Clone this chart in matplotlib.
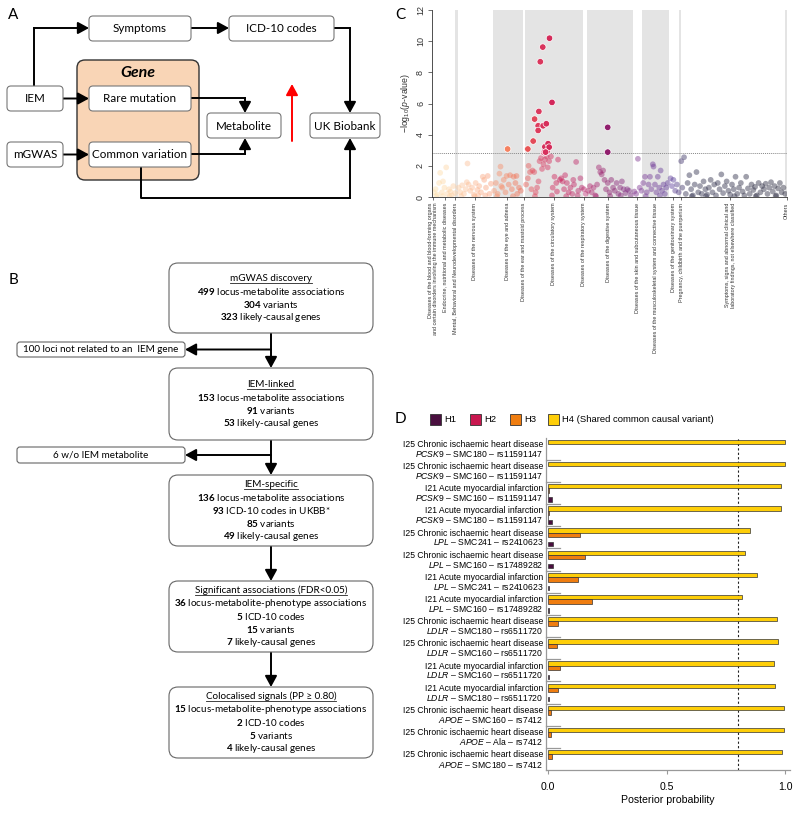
import numpy as np
import matplotlib
matplotlib.use("Agg")
import matplotlib.pyplot as plt
from matplotlib.patches import FancyBboxPatch, Rectangle
from matplotlib.colors import LinearSegmentedColormap

plt.rcParams['mathtext.fontset'] = 'custom'
plt.rcParams['mathtext.rm'] = 'Liberation Sans'
plt.rcParams['mathtext.it'] = 'Liberation Sans:italic'
plt.rcParams['mathtext.bf'] = 'Lato:bold'

SANS = ['Lato', 'DejaVu Sans']
ARIAL = ['Liberation Sans', 'DejaVu Sans']

# ---------------- Panel B data ----------------
flow_titles = ["mGWAS discovery", "IEM-linked", "IEM-specific",
               "Significant associations (FDR<0.05)", "Colocalised signals (PP \u2265 0.80)"]
flow_numbers = [["499", "304", "323"],
                ["153", "91", "53"],
                ["136", "93", "85", "49"],
                ["36", "5", "15", "7"],
                ["15", "2", "5", "4"]]
flow_texts = [["locus-metabolite associations", "variants", "likely-causal genes"],
              ["locus-metabolite associations", "variants", "likely-causal genes"],
              ["locus-metabolite associations", "ICD-10 codes in UKBB*", "variants", "likely-causal genes"],
              ["locus-metabolite-phenotype associations", "ICD-10 codes", "variants", "likely-causal genes"],
              ["locus-metabolite-phenotype associations", "ICD-10 codes", "variants", "likely-causal genes"]]
flow_excluded = ["100 loci not related to an  IEM gene", "6 w/o IEM metabolite"]

# ---------------- Panel C data ----------------
c_tick_labels = ["Diseases of the blood and blood-forming organs\nand certain disorders involving the immune mechanism",
                 "Endocrine, nutritional and metabolic diseases",
                 "Mental, Behavioral and Neurodevelopmental disorders",
                 "Diseases of the nervous system",
                 "Diseases of the eye and adnexa",
                 "Diseases of the ear and mastoid process",
                 "Diseases of the circulatory system",
                 "Diseases of the respiratory system",
                 "Diseases of the digestive system",
                 "Diseases of the skin and subcutaneous tissue",
                 "Diseases of the musculoskeletal system and connective tissue",
                 "Diseases of the genitourinary system",
                 "Pregnancy, childbirth and the puerperium",
                 "Symptoms, signs and abnormal clinical and\nlaboratory findings, not elsewhere classified",
                 "Others"]
c_tick_pos = [0.3, 3.6, 6.6, 12.1, 21.2, 25.9, 34.3, 42.8, 49.7, 57.8, 62.9, 68.0, 70.2, 84.0, 99.9]
c_bands = [(6.6, 7.2), (17.2, 25.6), (26.3, 42.5), (43.7, 56.6), (59.2, 66.9), (69.5, 70.1), (99.3, 99.9)]
c_threshold = 2.82

c_x = [0.5, 1.0, 1.5, 2.0, 2.3, 2.8, 3.1, 3.5, 4.0, 4.3, 4.8, 5.2, 5.6, 6.0, 6.5, 1.2, 3.0, 5.0,
       7.5, 8.0, 8.5, 9.0, 9.5, 10.0, 10.3, 10.8, 11.3, 11.8, 12.3, 12.8, 13.3, 13.8, 14.3, 14.7,
       15.2, 15.7, 16.2, 16.6, 8.2, 12.0, 15.0, 9.8, 13.0,
       17.5, 18.0, 18.5, 19.0, 19.3, 19.8, 20.2, 20.7, 21.0, 21.6, 22.0, 22.5, 23.0, 23.5, 24.0,
       24.5, 25.0, 18.3, 22.8, 19.5, 23.8,
       26.5, 27.0, 27.2, 27.6, 28.0, 28.3, 28.8, 29.2, 29.6, 30.0, 30.3, 30.7, 31.0, 31.4, 31.8,
       32.3, 32.6, 33.0, 33.5, 34.0, 34.5, 35.0, 35.5, 36.0, 36.4, 36.8, 37.2, 37.5, 38.0, 38.5,
       39.0, 39.5, 40.0, 40.6, 41.2, 41.8, 42.2, 29.0, 33.8, 37.8, 41.0, 35.2, 39.8,
       42.8, 43.3, 44.0, 44.5, 45.0, 45.5, 46.0, 46.5, 47.0, 47.4, 47.8, 48.2, 48.6, 49.0, 49.5,
       50.0, 50.5, 51.0, 51.5, 52.0, 52.5, 53.0, 53.5, 54.0, 54.5, 55.0, 55.5, 56.0, 46.2, 50.2, 53.2,
       57.0, 57.5, 58.0, 58.5, 59.0,
       59.5, 60.0, 60.5, 61.0, 61.4, 61.8, 62.2, 62.4, 62.8, 63.2, 63.6, 64.0, 64.4, 64.8, 65.2,
       65.6, 66.0, 66.4, 60.2, 64.2,
       67.2, 67.6, 68.0, 68.5, 69.0, 69.5, 70.2, 71.0,
       70.5, 71.5, 72.0, 72.5, 73.0, 73.5, 74.0, 74.5, 75.0, 75.5, 76.0, 76.5, 77.0, 77.5, 78.0,
       78.5, 79.0, 79.5, 80.0, 80.5, 81.0, 81.5, 82.0, 82.5, 83.0, 83.5, 84.0, 84.5, 85.0, 85.5,
       86.0, 86.5, 87.0, 87.5, 88.0, 88.5, 89.0, 89.5, 90.0, 90.5, 91.0, 91.5, 92.0, 92.5, 93.0,
       93.5, 94.0, 94.5, 95.0, 95.5, 96.0, 96.5, 97.0, 97.5, 98.0, 98.5, 99.0, 99.5,
       73.2, 77.2, 85.2, 91.2, 96.8,
       21.3, 27.0, 28.5, 28.9, 29.9, 29.9, 30.1, 30.5, 31.2, 31.3, 31.5, 31.7, 31.8, 32.2, 32.4,
       32.7, 33.0, 33.1, 33.8, 32.0, 49.5, 49.5]
c_y = [0.3, 0.5, 0.15, 0.9, 1.55, 0.3, 1.0, 0.6, 1.9, 0.2, 0.5, 0.35, 0.1, 0.7, 0.25, 0.05, 0.05, 0.05,
       0.6, 0.3, 0.75, 0.2, 0.5, 2.15, 0.8, 0.4, 0.6, 0.15, 0.9, 0.45, 0.7, 0.3, 1.3, 1.1,
       0.6, 1.35, 0.2, 0.85, 0.05, 0.05, 0.1, 0.95, 0.1,
       0.4, 0.9, 0.2, 1.5, 1.95, 0.6, 1.1, 0.3, 1.35, 0.8, 1.4, 0.5, 1.3, 0.9, 0.2,
       0.6, 0.4, 0.05, 0.05, 0.7, 1.35,
       0.8, 1.2, 2.0, 1.6, 0.5, 1.7, 1.6, 0.3, 0.6, 1.0, 2.3, 2.5, 1.8, 2.1, 2.4,
       2.6, 1.9, 2.3, 2.6, 0.6, 1.3, 0.9, 2.4, 1.1, 1.2, 1.0, 0.5, 1.4, 0.9, 0.3,
       0.6, 0.2, 0.8, 2.25, 0.4, 1.2, 0.6, 0.05, 0.1, 0.05, 0.1, 0.35, 1.1,
       0.5, 0.2, 0.4, 0.7, 0.3, 0.6, 0.1, 0.8, 1.9, 1.6, 1.45, 1.7, 1.1, 0.5, 0.9,
       0.3, 1.1, 0.6, 0.4, 0.9, 0.2, 0.6, 1.0, 0.5, 0.25, 0.5, 0.4, 0.1, 0.05, 0.05, 0.1,
       0.35, 0.2, 2.45, 0.6, 0.4,
       0.9, 1.3, 0.3, 0.8, 1.3, 0.5, 2.1, 1.95, 0.8, 0.3, 1.3, 0.6, 1.7, 0.4, 0.8,
       0.2, 0.6, 0.9, 0.05, 0.1,
       1.2, 0.7, 1.1, 0.4, 0.8, 0.3, 2.3, 2.55,
       0.6, 0.2, 0.9, 1.4, 0.5, 0.1, 0.8, 1.6, 0.3, 0.7, 0.2, 1.0, 0.5, 0.15, 0.6,
       1.1, 0.3, 0.8, 0.1, 0.9, 0.5, 1.45, 0.25, 0.7, 1.0, 0.4, 0.15, 0.8, 0.5, 1.3,
       0.2, 0.6, 0.9, 0.35, 0.1, 1.3, 0.55, 0.2, 0.8, 0.45, 0.65, 0.1, 0.9, 0.3, 0.7,
       0.5, 0.85, 0.2, 0.6, 0.95, 0.35, 0.7, 0.1, 0.55, 0.9, 0.3, 0.6, 0.2,
       0.05, 0.05, 0.05, 0.05, 0.05,
       3.08, 3.08, 3.59, 5.0, 4.57, 4.27, 5.49, 8.68, 9.62, 4.57, 2.85, 2.93, 3.22, 4.70, 2.93,
       3.42, 3.2, 10.19, 6.07, 2.88, 4.47, 2.88]

# ---------------- Panel D data ----------------
d_disease = ["I25 Chronic ischaemic heart disease", "I25 Chronic ischaemic heart disease",
             "I21 Acute myocardial infarction", "I21 Acute myocardial infarction",
             "I25 Chronic ischaemic heart disease", "I25 Chronic ischaemic heart disease",
             "I21 Acute myocardial infarction", "I21 Acute myocardial infarction",
             "I25 Chronic ischaemic heart disease", "I25 Chronic ischaemic heart disease",
             "I21 Acute myocardial infarction", "I21 Acute myocardial infarction",
             "I25 Chronic ischaemic heart disease", "I25 Chronic ischaemic heart disease",
             "I25 Chronic ischaemic heart disease"]
d_gene = ["PCSK9", "PCSK9", "PCSK9", "PCSK9", "LPL", "LPL", "LPL", "LPL",
          "LDLR", "LDLR", "LDLR", "LDLR", "APOE", "APOE", "APOE"]
d_metab = ["SMC180", "SMC160", "SMC160", "SMC180", "SMC241", "SMC160", "SMC241", "SMC160",
           "SMC180", "SMC160", "SMC160", "SMC180", "SMC160", "Ala", "SMC180"]
d_variant = ["rs11591147", "rs11591147", "rs11591147", "rs11591147", "rs2410623", "rs17489282",
             "rs2410623", "rs17489282", "rs6511720", "rs6511720", "rs6511720", "rs6511720",
             "rs7412", "rs7412", "rs7412"]
d_h1 = [0, 0, 0.018, 0.018, 0.02, 0.022, 0.003, 0.003, 0, 0, 0.005, 0.003, 0, 0, 0]
d_h2 = [0, 0, 0.002, 0.002, 0, 0, 0, 0, 0, 0, 0, 0, 0, 0, 0]
d_h3 = [0, 0, 0.003, 0.003, 0.136, 0.155, 0.125, 0.187, 0.041, 0.038, 0.050, 0.044, 0.013, 0.014, 0.018]
d_h4 = [1.0, 1.0, 0.983, 0.983, 0.852, 0.833, 0.882, 0.819, 0.968, 0.970, 0.952, 0.959, 0.996, 0.995, 0.989]
d_names = ["H1", "H2", "H3", "H4 (Shared common causal variant)"]
d_colors = ["#4a0f3f", "#c8174f", "#ef7d10", "#fece08"]
d_threshold = 0.8

# ======================================================
W, H = 800, 815
fig = plt.figure(figsize=(W / 100, H / 100), dpi=100)
ax0 = fig.add_axes([0, 0, 1, 1])
ax0.set_xlim(0, W)
ax0.set_ylim(H, 0)
ax0.axis('off')


def box(x, y, w, h, r=4, fc='white', ec='#777777', lw=0.8, z=2):
    ax0.add_patch(FancyBboxPatch((x, y), w, h, boxstyle=f"round,pad=0,rounding_size={r}",
                                 fc=fc, ec=ec, lw=lw, zorder=z))


def path_arrow(pts, color='black', lw=1.4):
    xs = [p[0] for p in pts[:-1]]
    ys = [p[1] for p in pts[:-1]]
    if len(pts) > 2:
        ax0.plot(xs, ys, color=color, lw=lw, solid_capstyle='projecting', zorder=1)
    ax0.annotate("", xy=pts[-1], xytext=pts[-2],
                 arrowprops=dict(arrowstyle='-|>,head_length=0.55,head_width=0.3', lw=lw, color=color,
                                 shrinkA=0, shrinkB=0, mutation_scale=12), zorder=1)


# ---------------- Panel A ----------------
ax0.text(13, 15, "A", fontsize=11, family=SANS, ha='center', va='center')
box(77, 60, 122, 120, r=8, fc='#f9d5b6', ec='#333333', lw=1.0, z=0.5)
ax0.text(138, 73, "Gene", fontsize=11.5, family=SANS, weight='bold', style='italic', ha='center', va='center')
a_boxes = [("Symptoms", 89, 16, 102, 25), ("ICD-10 codes", 229, 16, 105, 25),
           ("IEM", 7, 86, 56, 25), ("Rare mutation", 89, 86, 102, 25),
           ("mGWAS", 7, 142, 56, 25), ("Common variation", 89, 142, 102, 25),
           ("Metabolite", 207, 113, 74, 25), ("UK Biobank", 310, 113, 70, 25)]
for lab, x, y, w, h in a_boxes:
    box(x, y, w, h)
    ax0.text(x + w / 2, y + h / 2 + 0.5, lab, fontsize=8.4, family=SANS, ha='center', va='center', zorder=3)
path_arrow([(34, 86), (34, 28), (89, 28)])
path_arrow([(191, 28), (229, 28)])
path_arrow([(334, 28), (350, 28), (350, 113)])
path_arrow([(63, 98.5), (89, 98.5)])
path_arrow([(191, 98), (245, 98), (245, 113)])
path_arrow([(63, 154.5), (89, 154.5)])
path_arrow([(191, 154), (245, 154), (245, 138)])
path_arrow([(141, 167), (141, 198), (350, 198), (350, 138)])
path_arrow([(292, 141), (292, 84)], color='red', lw=1.4)

# ---------------- Panel B ----------------
ax0.text(13, 280, "B", fontsize=11, family=SANS, ha='center', va='center')
main_y = [(263, 333), (368, 440), (475, 546), (581, 652), (687, 758)]
bx0, bx1 = 169, 373
bcx = (bx0 + bx1) / 2
title_texts = []
fsB = 7.1
for i, (t, b) in enumerate(main_y):
    box(bx0, t, bx1 - bx0, b - t, r=9, ec='#666666')
    n = 1 + len(flow_numbers[i])
    cy = (t + b) / 2
    sp = 12.9
    y0 = cy - (n - 1) / 2 * sp
    tt = ax0.text(bcx, y0, flow_titles[i], fontsize=fsB, family=SANS, ha='center', va='center', zorder=3)
    title_texts.append((tt, y0))
    for j, (num, txt) in enumerate(zip(flow_numbers[i], flow_texts[i])):
        ax0.text(bcx, y0 + (j + 1) * sp, r"$\mathbf{" + num + "}$ " + txt, fontsize=fsB,
                 family=SANS, ha='center', va='center', zorder=3)
    if i < len(main_y) - 1:
        path_arrow([(271, b), (271, main_y[i + 1][0])], lw=1.4)

side = [(342, 357), (447, 463)]
for k, (t, b) in enumerate(side):
    box(17, t, 168, b - t, r=3, ec='#666666')
    ax0.text(101, (t + b) / 2, flow_excluded[k], fontsize=fsB, family=SANS, ha='center', va='center', zorder=3)
    path_arrow([(271, (t + b) / 2), (185, (t + b) / 2)], lw=1.4)

fig.canvas.draw()
rend = fig.canvas.get_renderer()
inv = ax0.transData.inverted()
for tt, y0 in title_texts:
    bb = tt.get_window_extent(rend)
    xa = inv.transform((bb.x0, 0))[0]
    xb = inv.transform((bb.x1, 0))[0]
    ax0.plot([xa, xb], [y0 + 4.3, y0 + 4.3], color='#222222', lw=0.6, zorder=3)

# ---------------- Panel C ----------------
ax0.text(400, 15, "C", fontsize=11, family=SANS, ha='center', va='center')
cmap = LinearSegmentedColormap.from_list("cc", [
    (0.00, "#fde3ad"), (0.10, "#fcbf98"), (0.20, "#f78a66"), (0.25, "#f06a50"),
    (0.30, "#dc3a5e"), (0.35, "#cf2058"), (0.45, "#b32a72"), (0.50, "#8b1c6c"),
    (0.60, "#7a3a98"), (0.68, "#5b3d99"), (0.72, "#30304f"), (1.00, "#2a2a3e")])
axc = fig.add_axes([432 / W, (H - 197) / H, 355 / W, 187 / H])
for a, b in c_bands:
    axc.axvspan(a, b, color='#e4e4e4', lw=0, zorder=0)
cx = np.array(c_x)
cyv = np.array(c_y)
sig = cyv > c_threshold
cols = cmap(cx / 100.0)
axc.scatter(cx[~sig], cyv[~sig], s=17, c=cols[~sig], alpha=0.45, lw=0, zorder=2)
axc.scatter(cx[sig], cyv[sig], s=22, c=cols[sig], edgecolors='white', linewidths=0.5, zorder=3)
axc.axhline(c_threshold, ls=(0, (1, 1)), color='#888888', lw=0.7, zorder=1)
axc.set_xlim(0, 100)
axc.set_ylim(0, 12)
axc.set_yticks([0, 2, 4, 6, 8, 10, 12])
for s in ['top', 'right']:
    axc.spines[s].set_visible(False)
for s in ['left', 'bottom']:
    axc.spines[s].set_color('#333333')
    axc.spines[s].set_linewidth(0.6)
axc.tick_params(axis='y', labelsize=6.5, length=3, width=0.5, pad=2, colors='#333333')
for t in axc.get_yticklabels():
    t.set_rotation(90)
    t.set_va('center')
    t.set_family(ARIAL)
axc.set_xticks(c_tick_pos)
axc.set_xticklabels(c_tick_labels, rotation=90, fontsize=3.9, family=ARIAL, ma='right')
axc.tick_params(axis='x', length=2.5, width=0.5, pad=1.5, colors='#333333')
axc.set_ylabel(r"$-\mathrm{log}_{10}$($\mathit{p}$-value)", fontsize=6.3, family=ARIAL, labelpad=3, color='#333333')

# ---------------- Panel D ----------------
ax0.text(400, 419, "D", fontsize=11, family=SANS, ha='center', va='center')
leg_x = [430, 470, 510, 548]
for k in range(4):
    ax0.add_patch(Rectangle((leg_x[k], 413.5), 11, 11, fc=d_colors[k], ec='#333333', lw=0.6, zorder=3))
    ax0.text(leg_x[k] + 14, 419.5, d_names[k], fontsize=6.8, family=ARIAL, ha='left', va='center')

axd = fig.add_axes([546 / W, (H - 770) / H, 244 / W, 332.5 / H])
nrow = len(d_h4)
rows = np.arange(nrow)
series = [(d_h4, -0.3, d_colors[3]), (d_h3, -0.1, d_colors[2]),
          (d_h2, 0.1, d_colors[1]), (d_h1, 0.3, d_colors[0])]
for vals, off, col in series:
    v = np.array(vals, dtype=float)
    m = v > 0
    axd.barh(rows[m] + off, v[m], height=0.2, color=col, edgecolor='#333333', linewidth=0.5, zorder=2)
axd.axvline(d_threshold, ls=(0, (2, 2)), color='#222222', lw=0.8, zorder=1)
axd.set_xlim(-0.0084, 1.021)
axd.set_ylim(nrow - 0.5, -0.5)
for i in range(nrow - 1):
    axd.plot([-0.0084, 0.05], [i + 0.5, i + 0.5], color='#999999', lw=0.9, clip_on=False, zorder=1)
for i in range(nrow):
    axd.text(-0.021, i - 0.19, d_disease[i], fontsize=6.2, family=ARIAL, ha='right', va='center')
    axd.text(-0.021, i + 0.23, r"$\mathit{" + d_gene[i] + "}$ \u2013 " + d_metab[i] + " \u2013 " + d_variant[i],
             fontsize=6.2, family=ARIAL, ha='right', va='center')
axd.set_yticks([])
for s in ['top', 'right']:
    axd.spines[s].set_visible(False)
for s in ['left', 'bottom']:
    axd.spines[s].set_color('#999999')
    axd.spines[s].set_linewidth(0.9)
axd.set_xticks([0, 0.5, 1.0])
axd.set_xticklabels(["0.0", "0.5", "1.0"], fontsize=7.6, family=ARIAL)
axd.tick_params(axis='x', length=3, width=0.8, color='#999999', pad=6)
axd.set_xlabel("Posterior probability", fontsize=7.6, family=ARIAL, labelpad=2)

fig.savefig("out.png", dpi=100)
